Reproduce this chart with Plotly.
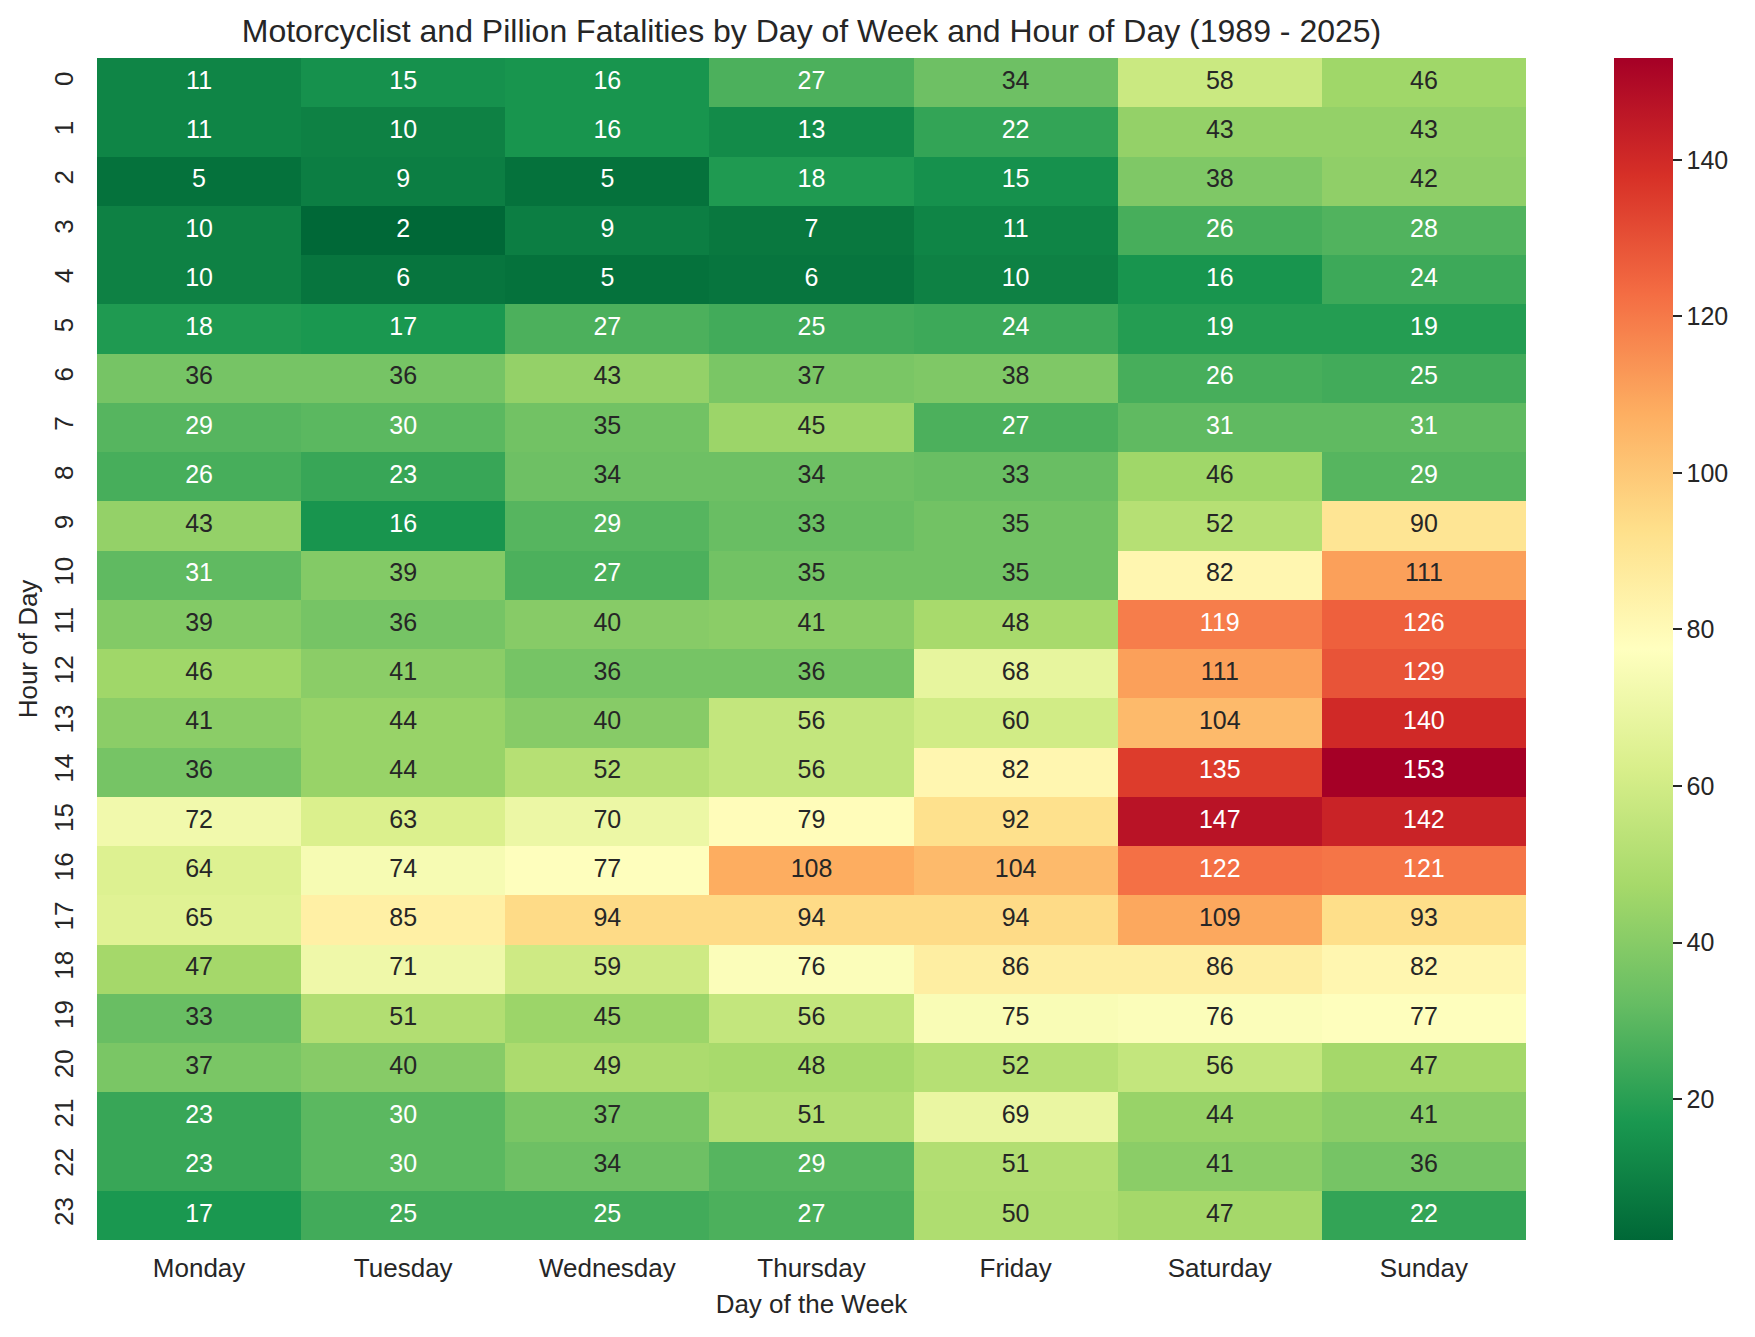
import plotly.graph_objects as go

days = ["Monday", "Tuesday", "Wednesday", "Thursday", "Friday", "Saturday", "Sunday"]
hours = list(range(24))

monday = [11, 11, 5, 10, 10, 18, 36, 29, 26, 43, 31, 39, 46, 41, 36, 72, 64, 65, 47, 33, 37, 23, 23, 17]
tuesday = [15, 10, 9, 2, 6, 17, 36, 30, 23, 16, 39, 36, 41, 44, 44, 63, 74, 85, 71, 51, 40, 30, 30, 25]
wednesday = [16, 16, 5, 9, 5, 27, 43, 35, 34, 29, 27, 40, 36, 40, 52, 70, 77, 94, 59, 45, 49, 37, 34, 25]
thursday = [27, 13, 18, 7, 6, 25, 37, 45, 34, 33, 35, 41, 36, 56, 56, 79, 108, 94, 76, 56, 48, 51, 29, 27]
friday = [34, 22, 15, 11, 10, 24, 38, 27, 33, 35, 35, 48, 68, 60, 82, 92, 104, 94, 86, 75, 52, 69, 51, 50]
saturday = [58, 43, 38, 26, 16, 19, 26, 31, 46, 52, 82, 119, 111, 104, 135, 147, 122, 109, 86, 76, 56, 44, 41, 47]
sunday = [46, 43, 42, 28, 24, 19, 25, 31, 29, 90, 111, 126, 129, 140, 153, 142, 121, 93, 82, 77, 47, 41, 36, 22]

columns = [monday, tuesday, wednesday, thursday, friday, saturday, sunday]
z = [[col[h] for col in columns] for h in hours]

brewer = ['#a50026', '#d73027', '#f46d43', '#fdae61', '#fee08b', '#ffffbf',
          '#d9ef8b', '#a6d96a', '#66bd63', '#1a9850', '#006837'][::-1]
n = len(brewer)
colorscale = [[i / (n - 1), c] for i, c in enumerate(brewer)]

zmin = min(min(c) for c in columns)
zmax = max(max(c) for c in columns)


def hex2rgb(h):
    h = h.lstrip('#')
    return [int(h[i:i + 2], 16) / 255 for i in (0, 2, 4)]


def cmap(v):
    t = (v - zmin) / (zmax - zmin)
    t = max(0, min(1, t))
    pos = t * (n - 1)
    i = min(int(pos), n - 2)
    f = pos - i
    a, b = hex2rgb(brewer[i]), hex2rgb(brewer[i + 1])
    return [a[k] + (b[k] - a[k]) * f for k in range(3)]


def lum(rgb):
    out = []
    for c in rgb:
        out.append(c / 12.92 if c <= 0.03928 else ((c + 0.055) / 1.055) ** 2.4)
    return 0.2126 * out[0] + 0.7152 * out[1] + 0.0722 * out[2]


tx, ty, tt, tc = [], [], [], []
for h in hours:
    for j, d in enumerate(days):
        v = columns[j][h]
        tx.append(d)
        ty.append(h)
        tt.append(str(v))
        tc.append("#262626" if lum(cmap(v)) > 0.408 else "white")

FONT = "Liberation Sans, Arial"
DARK = "#262626"

L, R, T, B = 97, 1526, 58, 1240
W, H = 1755, 1337

fig = go.Figure()
fig.add_trace(go.Heatmap(
    z=z, x=days, y=hours,
    colorscale=colorscale, zmin=zmin, zmax=zmax,
    colorbar=dict(
        x=(1614 - L) / (R - L), xanchor="left", xref="paper",
        y=0.5, yanchor="middle", len=1.0, lenmode="fraction",
        thickness=59, thicknessmode="pixels",
        outlinewidth=0, xpad=0, ypad=0,
        tickvals=[20, 40, 60, 80, 100, 120, 140],
        tickprefix='<span style="color:rgba(0,0,0,0)">-</span>',
        ticks="outside", ticklen=9, tickwidth=1.5, tickcolor=DARK,
        tickfont=dict(size=25, color=DARK, family=FONT),
    ),
    hoverinfo="skip",
))
fig.add_trace(go.Scatter(
    x=tx, y=ty, text=tt, mode="text",
    textfont=dict(size=25, color=tc, family=FONT),
    showlegend=False, hoverinfo="skip",
))

fig.update_layout(
    width=W, height=H,
    margin=dict(l=L, r=W - R, t=T, b=H - B, autoexpand=False),
    paper_bgcolor="white", plot_bgcolor="white",
    font=dict(family=FONT, color=DARK),
    title=dict(
        text="Motorcyclist and Pillion Fatalities by Day of Week and Hour of Day (1989 - 2025)",
        x=(L + R) / 2 / W, xanchor="center",
        y=1 - 31 / H, yanchor="middle",
        font=dict(size=32, color=DARK),
    ),
    showlegend=False,
)
fig.update_xaxes(
    title=dict(text="Day of the Week", font=dict(size=26), standoff=12),
    tickfont=dict(size=26), showgrid=False, zeroline=False, showline=False,
    ticks="", ticklabelstandoff=10, categoryorder="array", categoryarray=days,
    range=[-0.5, len(days) - 0.5],
)
fig.update_yaxes(
    title=dict(text="Hour of Day", font=dict(size=26), standoff=3),
    tickfont=dict(size=26), tickangle=-90, showgrid=False, zeroline=False,
    showline=False, ticks="", ticklabelstandoff=18,
    range=[len(hours) - 0.5, -0.5],
    tickmode="array", tickvals=hours, ticktext=[str(h) for h in hours],
)

fig.write_html("out.html", config={"displayModeBar": False},
               post_script="document.body.style.margin='0px';")
